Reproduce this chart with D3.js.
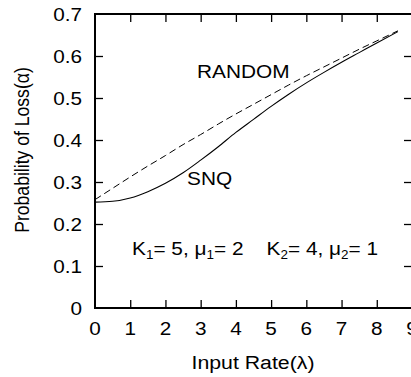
<!DOCTYPE html>
<html lang="en">
<head>
<meta charset="utf-8">
<title>Probability of Loss</title>
<script src="https://cdn.jsdelivr.net/npm/d3@7"></script>
<style>
  body { margin: 0; background: #fff; }
  text { font-family: "Liberation Sans", Arial, sans-serif; fill: #000; white-space: pre; }
</style>
</head>
<body>
<script>
// input rate (lambda)
var rates = [0, 0.5, 1, 1.5, 2, 2.5, 3, 3.5, 4, 4.5, 5, 5.5, 6, 6.5, 7, 7.5, 8, 8.6];
var snq = [0.252, 0.254, 0.262, 0.277, 0.297, 0.322, 0.352, 0.384, 0.418, 0.449,
           0.480, 0.509, 0.536, 0.561, 0.585, 0.608, 0.631, 0.658];
var random = [0.258, 0.285, 0.312, 0.338, 0.363, 0.389, 0.413, 0.438, 0.462, 0.485,
              0.508, 0.531, 0.553, 0.574, 0.595, 0.616, 0.636, 0.660];
var xTicks = [0, 1, 2, 3, 4, 5, 6, 7, 8, 9];
var yTicks = [0, 0.1, 0.2, 0.3, 0.4, 0.5, 0.6, 0.7];

var w = 411, h = 377;
var pLeft = 95, pRight = 412, pTop = 14, pBottom = 308;
var sx = 1.12; // glyphs in the original are a bit wide

var svg = d3.select("body").append("svg")
    .attr("width", w)
    .attr("height", h);

var x = d3.scaleLinear().domain([0, 9]).range([pLeft, pRight]);
var y = d3.scaleLinear().domain([0, 0.7]).range([pBottom, pTop]);

function place(px, py) {
  return "translate(" + px + "," + py + ") scale(" + sx + ",1)";
}

// inward ticks on all four sides
svg.append("g")
    .attr("transform", "translate(0," + pBottom + ")")
    .call(d3.axisTop(x).tickValues(xTicks.slice(1, -1)).tickSize(8).tickFormat(""))
    .call(g => g.select(".domain").remove());
svg.append("g")
    .attr("transform", "translate(0," + pTop + ")")
    .call(d3.axisBottom(x).tickValues(xTicks.slice(1, -1)).tickSize(8).tickFormat(""))
    .call(g => g.select(".domain").remove());
svg.append("g")
    .attr("transform", "translate(" + pLeft + ",0)")
    .call(d3.axisRight(y).tickValues(yTicks.slice(1, -1)).tickSize(8).tickFormat(""))
    .call(g => g.select(".domain").remove());
svg.append("g")
    .attr("transform", "translate(" + pRight + ",0)")
    .call(d3.axisLeft(y).tickValues(yTicks.slice(1, -1)).tickSize(8).tickFormat(""))
    .call(g => g.select(".domain").remove());
svg.selectAll(".tick line").attr("stroke", "#000").attr("stroke-width", 1.3);

// tick labels
svg.append("g").selectAll("text")
    .data(xTicks)
    .enter().append("text")
    .attr("transform", d => place(x(d), 335))
    .attr("text-anchor", "middle")
    .style("font-size", "18.5px")
    .text(d => d);
svg.append("g").selectAll("text")
    .data(yTicks)
    .enter().append("text")
    .attr("transform", d => place(82, y(d) + 6.6))
    .attr("text-anchor", "end")
    .style("font-size", "18.5px")
    .text(d => d === 0 ? "0" : d3.format(".1f")(d));

// frame
svg.append("rect")
    .attr("x", pLeft)
    .attr("y", pTop)
    .attr("width", pRight - pLeft)
    .attr("height", pBottom - pTop)
    .attr("fill", "none")
    .attr("stroke", "#000")
    .attr("stroke-width", 2);

var line = d3.line()
    .x((d, i) => x(rates[i]))
    .y(d => y(d))
    .curve(d3.curveMonotoneX);

svg.append("path")
    .datum(random)
    .attr("d", line)
    .attr("fill", "none")
    .attr("stroke", "#000")
    .attr("stroke-width", 1)
    .attr("stroke-dasharray", "7,4");

svg.append("path")
    .datum(snq)
    .attr("d", line)
    .attr("fill", "none")
    .attr("stroke", "#000")
    .attr("stroke-width", 1.1);

// curve labels
svg.append("text").attr("transform", place(197, 78)).style("font-size", "18.6px").text("RANDOM");
svg.append("text").attr("transform", place(187, 185)).style("font-size", "18.6px").text("SNQ");

// parameters
var par = svg.append("text").attr("transform", place(132, 255)).style("font-size", "18.6px");
par.append("tspan").text("K");
par.append("tspan").attr("dy", 4).style("font-size", "12px").text("1");
par.append("tspan").attr("dy", -4).text("= 5, μ");
par.append("tspan").attr("dy", 4).style("font-size", "12px").text("1");
par.append("tspan").attr("dy", -4).text("= 2    K");
par.append("tspan").attr("dy", 4).style("font-size", "12px").text("2");
par.append("tspan").attr("dy", -4).text("= 4, μ");
par.append("tspan").attr("dy", 4).style("font-size", "12px").text("2");
par.append("tspan").attr("dy", -4).text("= 1");

// axis titles
svg.append("text")
    .attr("transform", place(253, 369))
    .attr("text-anchor", "middle")
    .style("font-size", "19px")
    .text("Input Rate(λ)");
svg.append("text")
    .attr("transform", "translate(29,150) rotate(-90) scale(1," + sx + ")")
    .attr("text-anchor", "middle")
    .style("font-size", "17.6px")
    .text("Probability of Loss(α)");
</script>
</body>
</html>
